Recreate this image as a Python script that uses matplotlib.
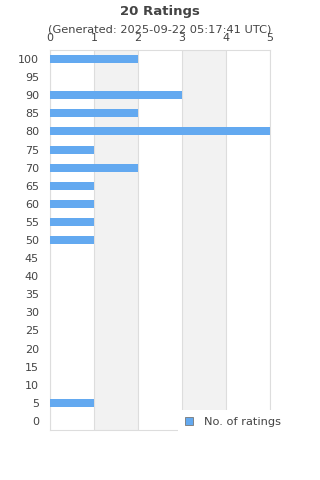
import matplotlib
matplotlib.use("Agg")
import matplotlib.pyplot as plt
from matplotlib.patches import Patch

categories = ["0", "5", "10", "15", "20", "25", "30", "35", "40", "45", "50",
              "55", "60", "65", "70", "75", "80", "85", "90", "95", "100"]
counts = [0, 1, 0, 0, 0, 0, 0, 0, 0, 0, 1,
          1, 1, 1, 2, 1, 5, 2, 3, 0, 2]
xticks = [0, 1, 2, 3, 4, 5]

title = "20 Ratings"
subtitle = "(Generated: 2025-09-22 05:17:41 UTC)"
series_name = "No. of ratings"

bar_color = "#63a9f0"
text_color = "#444444"
grid_color = "#dddddd"

fig = plt.figure(figsize=(3.2, 4.8), dpi=100)
ax = fig.add_axes([50/320, 1-430/480, 220/320, 380/480])

# alternating bands
for i in range(len(xticks) - 1):
    if i % 2 == 1:
        ax.axvspan(xticks[i], xticks[i+1], color="#f2f2f2", zorder=0, lw=0)

ypos = list(range(len(categories)))
ax.barh(ypos, counts, height=0.44, color=bar_color, zorder=3)

ax.set_xlim(0, 5)
ax.set_ylim(-0.5, len(categories) - 0.5)
ax.set_yticks(ypos)
ax.set_yticklabels(categories)
ax.set_xticks(xticks)
ax.xaxis.tick_top()
ax.tick_params(axis="both", length=0, labelsize=8, colors=text_color)
ax.tick_params(axis="x", pad=5)
ax.tick_params(axis="y", pad=8)
ax.grid(axis="x", color=grid_color, lw=0.8, zorder=1)
for s in ax.spines.values():
    s.set_color(grid_color)
    s.set_linewidth(0.8)

fig.text(0.5, 1-11/480, title, ha="center", va="center", fontsize=9.5,
         fontweight="bold", color=text_color)
fig.text(0.5, 1-29/480, subtitle, ha="center", va="center", fontsize=8.2,
         color=text_color)

handle = Patch(facecolor=bar_color, edgecolor="#777777", lw=0.6)
leg = fig.legend([handle], [series_name], loc="upper left",
                 bbox_to_anchor=(178/320, 1-410/480), frameon=True,
                 fontsize=8.2, handlelength=0.7, handleheight=0.7,
                 handletextpad=1.0, borderpad=0.6, borderaxespad=0)
leg.get_frame().set_facecolor("white")
leg.get_frame().set_edgecolor("none")
leg.get_frame().set_alpha(1)
leg.get_frame().set_boxstyle("square", pad=0)
for t in leg.get_texts():
    t.set_color(text_color)

fig.savefig("out.png", dpi=100, facecolor="white")
